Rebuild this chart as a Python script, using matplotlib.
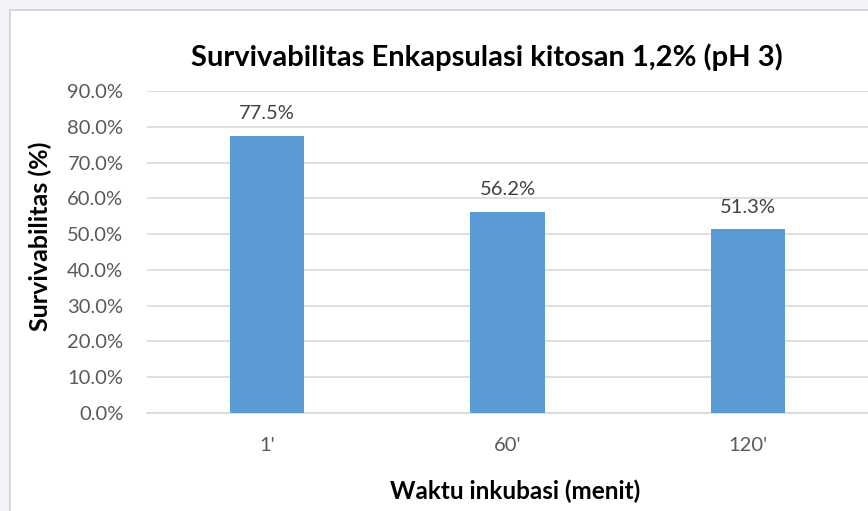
import matplotlib.pyplot as plt
from matplotlib.patches import Rectangle
from matplotlib.ticker import FuncFormatter

# data
waktu = ["1'", "60'", "120'"]
survival = [0.775, 0.562, 0.513]
yticks = [0.0, 0.1, 0.2, 0.3, 0.4, 0.5, 0.6, 0.7, 0.8, 0.9]

plt.rcParams['font.family'] = ['Lato', 'DejaVu Sans']

W, H = 868, 511
fig = plt.figure(figsize=(W / 100, H / 100), dpi=100)
fig.patch.set_facecolor('#f3f3f8')
# white chart frame (cut off on the right and bottom)
fig.patches.append(Rectangle((10 / W, -0.01), 1, 1 - 10 / H + 0.01, transform=fig.transFigure,
                             facecolor='white', edgecolor='#d0d0d0', lw=1.2, zorder=-5))

ax = fig.add_axes([147 / W, 1 - 413 / H, (868 - 147) / W, (413 - 91) / H])
ax.set_zorder(2)
ax.set_facecolor('none')
x = range(len(waktu))
bars = ax.bar(x, survival, width=0.31, color='#5b9bd5', zorder=3)

ax.set_xlim(-0.5, 2.5)
ax.set_ylim(0, 0.9)
ax.set_yticks(yticks)
ax.yaxis.set_major_formatter(FuncFormatter(lambda v, p: f"{v * 100:.1f}%"))
ax.set_xticks(list(x))
ax.set_xticklabels(waktu)
ax.tick_params(axis='y', length=0, pad=17, labelsize=14.5, labelcolor='#595959')
ax.tick_params(axis='x', length=0, pad=17, labelsize=14.5, labelcolor='#595959')
ax.grid(axis='y', color='#d9d9d9', lw=1.2, zorder=0)
for s in ['top', 'right', 'left']:
    ax.spines[s].set_visible(False)
ax.spines['bottom'].set_color('#d9d9d9')
ax.spines['bottom'].set_linewidth(1.2)

for b, v in zip(bars, survival):
    ax.annotate(f"{v * 100:.1f}%", (b.get_x() + b.get_width() / 2, v),
                xytext=(0, 10), textcoords='offset points', ha='center', va='bottom',
                fontsize=14.5, color='#404040')

fig.text(487 / W, 1 - 57 / H, "Survivabilitas Enkapsulasi kitosan 1,2% (pH 3)",
         ha='center', va='center', fontsize=21, fontweight='bold')
fig.text(40 / W, 1 - 236 / H, "Survivabilitas (%)", rotation=90, ha='center',
         va='center', fontsize=18, fontweight='bold')
fig.text(515 / W, 1 - 491 / H, "Waktu inkubasi (menit)", ha='center', va='center',
         fontsize=17.5, fontweight='bold')

fig.savefig('out.png', dpi=100, facecolor=fig.get_facecolor())
